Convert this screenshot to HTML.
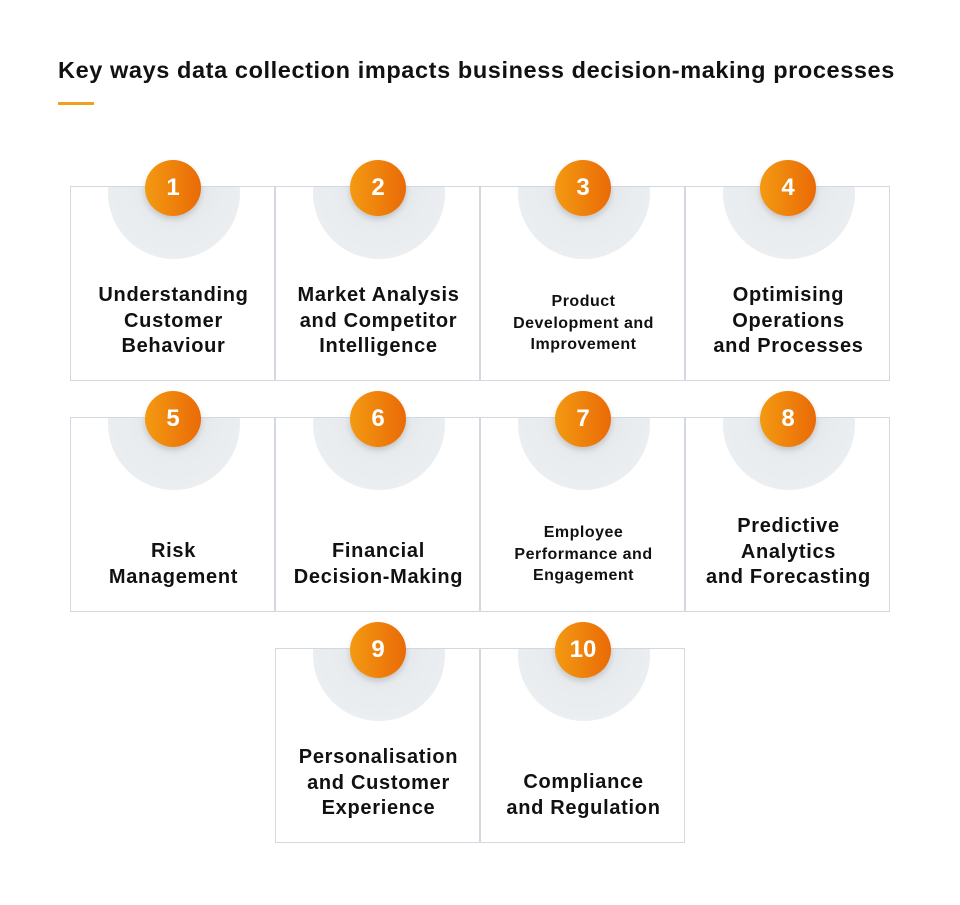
<!DOCTYPE html>
<html><head><style>
body{margin:0;width:960px;height:905px;background:#fff;position:relative;font-family:"Liberation Sans",sans-serif;overflow:hidden}
.title{position:absolute;left:58px;top:57px;font-size:23.5px;font-weight:bold;color:#111;white-space:nowrap;letter-spacing:0.6px}
.bar{position:absolute;left:58px;top:102px;width:36px;height:3px;background:#f0a01c}
.cell{position:absolute;width:205px;height:195px;border:1px solid #d3d8e0;box-sizing:border-box;background:#fff;overflow:hidden}
.semi{position:absolute;left:37px;top:-60px;width:132px;height:132px;border-radius:50%;background:radial-gradient(circle at 50% 45%,#dcdfe4 0%,#e9ecef 45%,#eef0f2 100%)}
.num{position:absolute;width:56px;height:56px;border-radius:50%;background:linear-gradient(90deg,#f39a12,#ea6a06);color:#fff;font-weight:bold;font-size:24px;line-height:56px;text-align:center;box-shadow:0 3px 6px rgba(0,0,0,0.15)}
.lbl{position:absolute;left:0;width:205px;text-align:center;font-weight:bold;color:#111;font-size:20px;line-height:25.5px;letter-spacing:0.7px;top:96px}
.sm{font-size:16px;line-height:21.5px;letter-spacing:0.5px;top:104px}
</style></head><body>
<div class="title">Key ways data collection impacts business decision-making processes</div>
<div class="bar"></div>

<div class="cell" style="left:70px;top:186px"><div class="semi"></div><div class="lbl">Understanding<br>Customer<br>Behaviour</div></div>
<div class="cell" style="left:275px;top:186px"><div class="semi"></div><div class="lbl">Market Analysis<br>and Competitor<br>Intelligence</div></div>
<div class="cell" style="left:480px;top:186px"><div class="semi"></div><div class="lbl sm">Product<br>Development and<br>Improvement</div></div>
<div class="cell" style="left:685px;top:186px"><div class="semi"></div><div class="lbl">Optimising<br>Operations<br>and Processes</div></div>

<div class="cell" style="left:70px;top:417px"><div class="semi"></div><div class="lbl" style="top:121px">Risk<br>Management</div></div>
<div class="cell" style="left:275px;top:417px"><div class="semi"></div><div class="lbl" style="top:121px">Financial<br>Decision-Making</div></div>
<div class="cell" style="left:480px;top:417px"><div class="semi"></div><div class="lbl sm">Employee<br>Performance and<br>Engagement</div></div>
<div class="cell" style="left:685px;top:417px"><div class="semi"></div><div class="lbl">Predictive<br>Analytics<br>and Forecasting</div></div>

<div class="cell" style="left:275px;top:648px"><div class="semi"></div><div class="lbl">Personalisation<br>and Customer<br>Experience</div></div>
<div class="cell" style="left:480px;top:648px"><div class="semi"></div><div class="lbl" style="top:121px">Compliance<br>and Regulation</div></div>

<div class="num" style="left:145px;top:160px">1</div>
<div class="num" style="left:350px;top:160px">2</div>
<div class="num" style="left:555px;top:160px">3</div>
<div class="num" style="left:760px;top:160px">4</div>
<div class="num" style="left:145px;top:391px">5</div>
<div class="num" style="left:350px;top:391px">6</div>
<div class="num" style="left:555px;top:391px">7</div>
<div class="num" style="left:760px;top:391px">8</div>
<div class="num" style="left:350px;top:622px">9</div>
<div class="num" style="left:555px;top:622px">10</div>
</body></html>
